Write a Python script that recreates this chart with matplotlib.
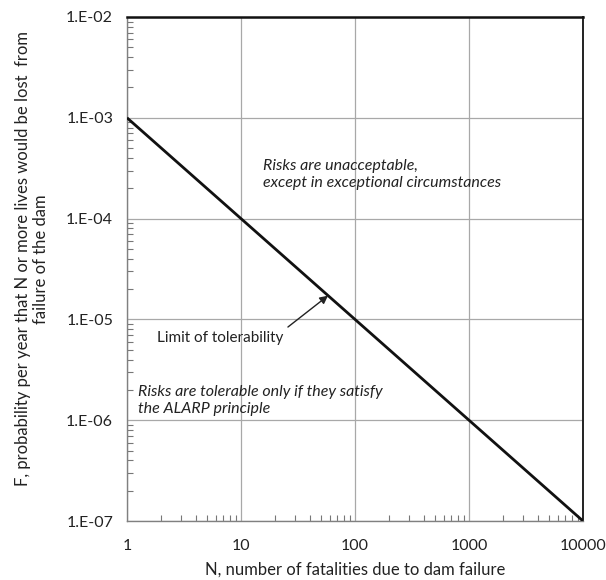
import matplotlib
matplotlib.use("Agg")
import matplotlib.pyplot as plt
from matplotlib.ticker import LogLocator, NullFormatter

plt.rcParams['font.family'] = ['Lato', 'DejaVu Sans']

# Data
N_limit = [1, 10000]
F_limit = [1e-3, 1e-7]
x_ticks = [1, 10, 100, 1000, 10000]
x_tick_labels = ["1", "10", "100", "1000", "10000"]
y_ticks = [1e-7, 1e-6, 1e-5, 1e-4, 1e-3, 1e-2]
y_tick_labels = ["1.E-07", "1.E-06", "1.E-05", "1.E-04", "1.E-03", "1.E-02"]

fig = plt.figure(figsize=(6.06, 5.80), dpi=100)
ax = fig.add_axes([127/606, 1-521/580, (583-127)/606, (521-17)/580])

ax.set_xscale('log')
ax.set_yscale('log')
ax.set_xlim(1, 10000)
ax.set_ylim(1e-7, 1e-2)

ax.grid(True, which='major', color='#a8a8a8', linewidth=0.9)
ax.set_axisbelow(True)

ax.plot(N_limit, F_limit, color='#111111', linewidth=2.0, solid_capstyle='butt', zorder=3)

ax.set_xticks(x_ticks)
ax.set_xticklabels(x_tick_labels)
ax.set_yticks(y_ticks)
ax.set_yticklabels(y_tick_labels)
ax.xaxis.set_minor_locator(LogLocator(base=10, subs=range(2, 10)))
ax.yaxis.set_minor_locator(LogLocator(base=10, subs=range(2, 10)))
ax.xaxis.set_minor_formatter(NullFormatter())
ax.yaxis.set_minor_formatter(NullFormatter())

ax.tick_params(which='major', length=0, labelsize=11.5, colors='#222222')
ax.tick_params(axis='x', which='major', pad=13)
ax.tick_params(axis='y', which='major', pad=10)
ax.tick_params(which='minor', direction='in', length=4, width=0.8, color='#777777',
               top=False, right=False)

for side in ['left', 'bottom']:
    ax.spines[side].set_color('#808080')
    ax.spines[side].set_linewidth(1.0)
ax.spines['top'].set_color('#111111')
ax.spines['top'].set_linewidth(1.8)
ax.spines['right'].set_color('#222222')
ax.spines['right'].set_linewidth(1.4)

ax.set_xlabel("N, number of fatalities due to dam failure", fontsize=12, color='#222222', labelpad=6)
ax.set_ylabel("F, probability per year that N or more lives would be lost  from\nfailure of the dam",
              fontsize=12, color='#222222', linespacing=1.15)
ax.yaxis.set_label_coords(-0.172, 0.52)

it = dict(fontsize=11.5, style='italic', color='#222222', va='baseline', ha='left')
ax.text(15.6, 3.03e-4, "Risks are unacceptable,", **it)
ax.text(15.6, 2.06e-4, "except in exceptional circumstances", **it)
ax.text(1.25, 1.74e-6, "Risks are tolerable only if they satisfy", **it)
ax.text(1.25, 1.18e-6, "the ALARP principle", **it)

ax.text(23.4, 5.97e-6, "Limit of tolerability", fontsize=11, color='#222222', va='baseline', ha='right')
ax.annotate("", xy=(58, 1.72e-5), xytext=(25.8, 8.4e-6),
            arrowprops=dict(arrowstyle='-|>', color='#222222', lw=1.0, mutation_scale=12,
                            shrinkA=0, shrinkB=0))

fig.savefig("out.png", dpi=100)
